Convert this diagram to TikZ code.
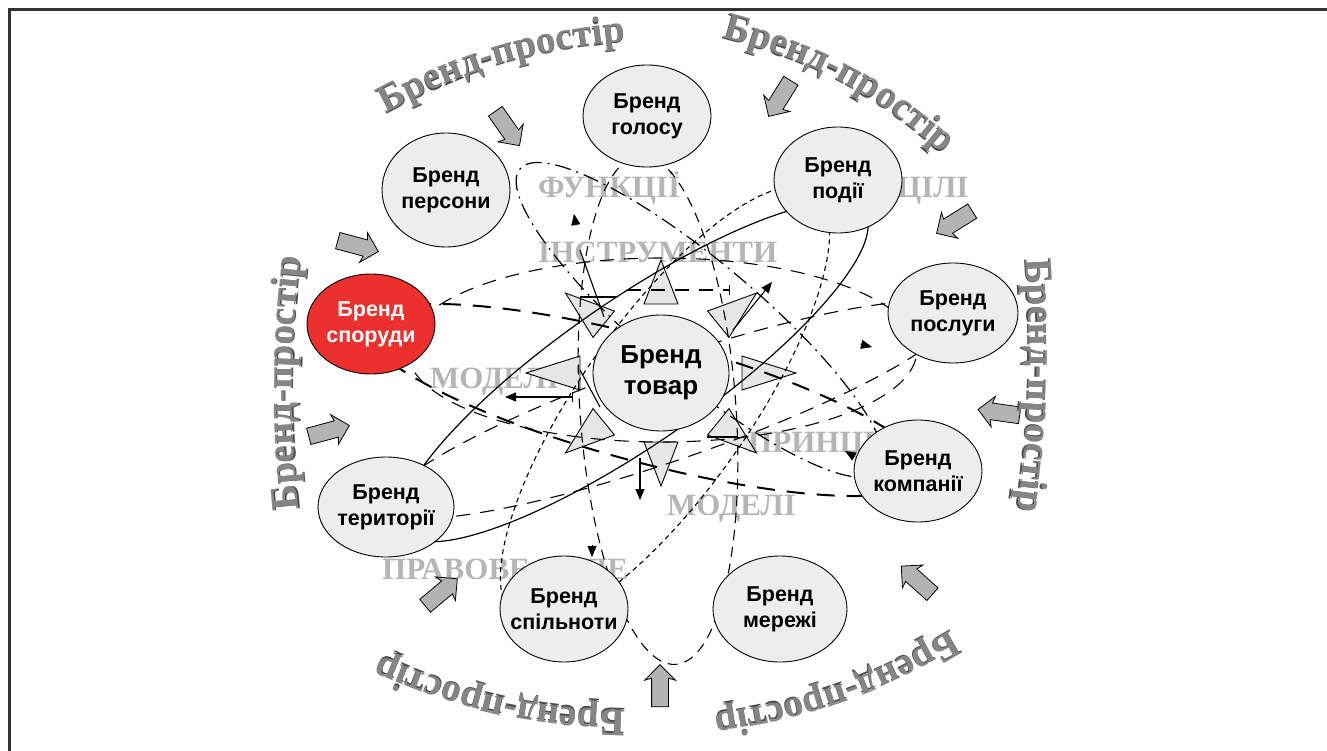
\documentclass[tikz,border=0pt]{standalone}
\usepackage{fontspec}
\setmainfont{Liberation Serif}
\setsansfont{Liberation Sans}
\usepackage{tikz}
\usetikzlibrary{calc,math,shapes.geometric,shapes.arrows,decorations.text,arrows.meta}
\definecolor{nodegray}{HTML}{EDEDED}
\definecolor{brandred}{HTML}{EC302E}
\definecolor{prostirgray}{HTML}{858585}
\definecolor{prostirshade}{HTML}{4D4D4D}
\definecolor{labelgray}{HTML}{B5B5B5}
\definecolor{arrowgray}{HTML}{B3B3B3}
\definecolor{trigray}{HTML}{E6E6E6}
\definecolor{framegray}{HTML}{333333}
\newcommand{\prostir}{\rmfamily\bfseries\fontsize{39}{39}\selectfont}

\begin{document}
\begin{tikzpicture}
[x=1pt,y=1pt,
brand/.style={draw,ellipse,fill=nodegray,line width=0.9pt,inner sep=0pt},
brandtext/.style={align=center,font=\sffamily\bfseries\fontsize{21.5}{26}\selectfont},
innerlabel/.style={anchor=base west,inner sep=0pt,text=labelgray,font=\rmfamily\bfseries\fontsize{31}{31}\selectfont},
blockarrow/.style={single arrow,draw,fill=arrowgray,line width=0.8pt,minimum height=42pt,inner xsep=0pt,inner ysep=8pt,single arrow head extend=7pt,single arrow head indent=2pt},
tri/.style={draw,fill=trigray,line width=0.9pt},
tip/.style={-{Triangle[length=11pt,width=9pt]}},
orbitlong/.style={line width=1.1pt,dash pattern=on 14pt off 10pt},
orbitmid/.style={line width=1.1pt,dash pattern=on 10pt off 7pt},
orbitshort/.style={line width=1.1pt,dash pattern=on 5pt off 4pt},
orbitdot/.style={line width=1.2pt,dash pattern=on 16pt off 6pt on 2pt off 6pt},
orbitthick/.style={line width=2pt,dash pattern=on 18pt off 12pt},
orbitsolid/.style={line width=1.2pt},]

\useasboundingbox (0,0) rectangle (1327,-751);

%Frame
\draw[line width=3pt,framegray] (1327,-10) -| (9.5,-751);

%Inner labels
\node (funkcii) at (538,-198)[innerlabel] {ФУНКЦІЇ};
\node (instr) at (538,-262)[innerlabel] {ІНСТРУМЕНТИ};
\node (modeli) at (430,-388)[innerlabel] {МОДЕЛІ};
\node (cili) at (897,-198)[innerlabel] {ЦІЛІ};
\node (pryncypy) at (748,-452)[innerlabel] {ПРИНЦИПИ};
\node (modelib) at (667,-515)[innerlabel] {МОДЕЛІ};
\node (pravo) at (382,-579)[innerlabel] {ПРАВОВЕ ПОЛЕ};

%Triangles round the product
\coordinate (ctr) at (661,-373);
\foreach \a in {0,45,...,315}{
  \coordinate (apex) at ($(ctr)+(\a:135pt and 113pt)$);
  \coordinate (foot) at ($(ctr)+(\a:81pt and 69pt)$);
  \filldraw[tri] ($(foot)!17pt!90:(apex)$) -- (apex) -- ($(foot)!17pt!-90:(apex)$) -- cycle;
}

%Orbits
\draw[orbitlong] (662,-350) ellipse[x radius=255,y radius=92];
\draw[orbitmid,rotate around={4:(658,-410)}] (658,-410) ellipse[x radius=78,y radius=255];
\draw[orbitshort,rotate around={55:(665,-405)}] (665,-405) ellipse[x radius=260,y radius=85];
\draw[orbitdot,rotate around={-40:(700,-320)}] (700,-320) ellipse[x radius=235,y radius=58];
\draw[orbitthick,rotate around={-15:(645,-400)}] (645,-400) ellipse[x radius=290,y radius=62];
\draw[orbitsolid,rotate around={34.6:(634,-372)}] (634,-372) ellipse[x radius=280,y radius=72];
\draw[orbitlong,rotate around={19:(670,-410)}] (670,-410) ellipse[x radius=300,y radius=50];

%Short strokes
\foreach \ax/\ay/\bx/\by in {580/250/604/317, 580/297/617/297, 707/437/737/437, 580/370/600/407}
  \draw[line width=1.1pt] (\ax,-\ay) -- (\bx,-\by);
\draw[orbitlong,-{Bar[width=10pt]}] (627,-290) -- (730,-290);

%Arrows
\coordinate (lefts) at (573,-397);
\coordinate (lefte) at (505,-397);
\coordinate (downs) at (640,-458);
\coordinate (downe) at (640,-500);
\coordinate (ups) at (733,-330);
\coordinate (upe) at (772,-282);
\draw[line width=1.1pt,{Bar[width=10pt]}-{Triangle[length=11pt,width=9pt]}] (lefts) -- (lefte);
\draw[line width=1.1pt,tip] (downs) -- (downe);
\draw[line width=1.1pt,tip] (ups) -- (upe);
\foreach \ax/\ay/\bx/\by in {576/226/574/214, 860/344/872/347, 857/458/845/451, 592/545/592/557}
  \draw[tip] (\ax,-\ay) -- (\bx,-\by);

%Brand nodes
\node (golos) at (647,-116)[brand,minimum width=128pt,minimum height=102pt,label={[brandtext]center:Бренд\\голосу}] {};
\node (persona) at (446,-190)[brand,minimum width=128pt,minimum height=114pt,label={[brandtext]center:Бренд\\персони}] {};
\node (podiya) at (838,-180)[brand,minimum width=128pt,minimum height=106pt,label={[brandtext]center:Бренд\\події}] {};
\node (posluga) at (953,-313)[brand,minimum width=130pt,minimum height=100pt,label={[brandtext]center:Бренд\\послуги}] {};
\node (kompaniya) at (918,-471)[brand,minimum width=128pt,minimum height=102pt,label={[brandtext]center:Бренд\\компанії}] {};
\node (merezha) at (780,-609)[brand,minimum width=134pt,minimum height=106pt,label={[brandtext]center:Бренд\\мережі}] {};
\node (spilnota) at (564,-609)[brand,minimum width=128pt,minimum height=106pt,label={[brandtext]center:Бренд\\спільноти}] {};
\node (terytoriya) at (386,-507)[brand,minimum width=136pt,minimum height=100pt,label={[brandtext]center:Бренд\\території}] {};
\node (sporuda) at (371,-324)[brand,fill=brandred,minimum width=128pt,minimum height=100pt,label={[brandtext,text=white]center:Бренд\\споруди}] {};
\node (tovar) at (ctr)[brand,minimum width=136pt,minimum height=116pt,label={[brandtext,font=\sffamily\bfseries\fontsize{26}{31}\selectfont]center:Бренд\\товар}] {};

%Block arrows
\foreach \x/\y/\r [count=\i] in {505/125/-55, 782/95/-122, 958/220/-148, 1003/413/172, 920/583/138, 660/690/90, 438/595/40, 325/432/15, 354/245/-15}
  \node (arr\i) at (\x,-\y)[blockarrow,rotate=\r] {};

%Brand space captions, shade first
\foreach \sx/\sy/\ex/\ey/\bb in {372.5/120.3/640.5/39.7/12, 706/33/956/165/14, 1024.6/243.5/1015.4/526.5/6, 965.5/622/697.5/716/12, 639.5/710.5/367.5/649.5/12, 300/525/302/242/6}{
  \path[decorate,decoration={text along path,text align=center,raise=-1.6pt,text={|\color{prostirshade}\prostir|Бренд-простір}}] (\sx,-\sy) to[bend left=\bb] (\ex,-\ey);
  \path[decorate,decoration={text along path,text align=center,text={|\color{prostirgray}\prostir|Бренд-простір}}] (\sx,-\sy) to[bend left=\bb] (\ex,-\ey);
}

\end{tikzpicture}
\end{document}
